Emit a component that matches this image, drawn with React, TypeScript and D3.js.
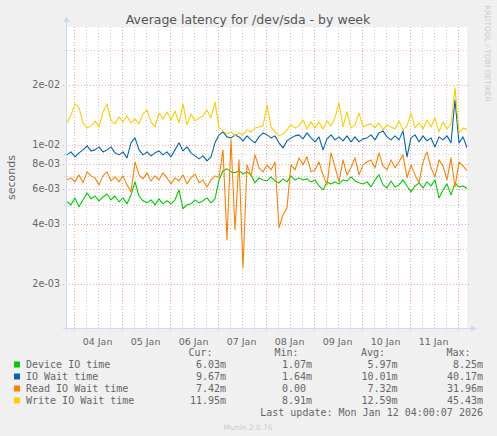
import * as d3 from "d3";

// munin "by week" window: 400 px at 30 min per px, sampled here every 2 h
const START = new Date(2026, 0, 3, 20, 42);
const END = new Date(2026, 0, 12, 4, 42);
const STEP_HOURS = 2;

const deviceIO = [
  0.00517, 0.00499, 0.00541, 0.00488, 0.00529, 0.00573, 0.00535, 0.00553, 0.00523, 0.00547,
  0.00566, 0.00529, 0.00553, 0.00517, 0.00541, 0.00505, 0.0056, 0.00651, 0.00553, 0.00523,
  0.00511, 0.00529, 0.00499, 0.00535, 0.00505, 0.00523, 0.00505, 0.00529, 0.00593, 0.00477,
  0.00499, 0.00505, 0.00529, 0.00511, 0.00523, 0.00541, 0.00511, 0.00535, 0.00666, 0.0074,
  0.00757, 0.00731, 0.00723, 0.0074, 0.00715, 0.00731, 0.00706, 0.00644, 0.00682, 0.00666,
  0.00658, 0.0069, 0.00658, 0.00644, 0.00674, 0.00651, 0.00698, 0.00666, 0.00682, 0.00666,
  0.00674, 0.00651, 0.00666, 0.00621, 0.00593, 0.00651, 0.00636, 0.00651, 0.00636, 0.00666,
  0.00658, 0.0069, 0.00658, 0.00644, 0.00636, 0.00651, 0.00614, 0.00666, 0.00706, 0.00629,
  0.00607, 0.00658, 0.00614, 0.00629, 0.00666, 0.00621, 0.0058, 0.00621, 0.00644, 0.00607,
  0.00651, 0.00621, 0.00666, 0.00541, 0.00593, 0.00636, 0.0056, 0.00644, 0.00614, 0.00621,
  0.00603,
];

const ioWait = [
  0.0089, 0.00921, 0.0087, 0.00911, 0.00943, 0.00987, 0.00932, 0.00943, 0.00976, 0.00921,
  0.00943, 0.00976, 0.00911, 0.0089, 0.00921, 0.0086, 0.01023, 0.01083, 0.00943, 0.0089,
  0.00921, 0.0088, 0.00911, 0.00932, 0.0089, 0.00921, 0.0087, 0.00943, 0.01023, 0.00932,
  0.00976, 0.00911, 0.0088, 0.0085, 0.0088, 0.0083, 0.0087, 0.01023, 0.01122, 0.01161,
  0.01096, 0.01083, 0.01122, 0.01096, 0.01047, 0.01109, 0.01059, 0.01023, 0.01096, 0.01148,
  0.01122, 0.01083, 0.01109, 0.01023, 0.00965, 0.01047, 0.01083, 0.01109, 0.01122, 0.01071,
  0.01148, 0.01083, 0.01035, 0.01096, 0.00943, 0.01071, 0.01122, 0.01059, 0.01096, 0.01047,
  0.01109, 0.01035, 0.01096, 0.01035, 0.01071, 0.01083, 0.01122, 0.01059, 0.01148, 0.01175,
  0.01096, 0.01059, 0.01109, 0.01059, 0.01175, 0.0087, 0.01083, 0.01122, 0.01035, 0.01109,
  0.01047, 0.01083, 0.00976, 0.01096, 0.01059, 0.01109, 0.01023, 0.01681, 0.01023, 0.01096,
  0.00967,
];

const readIO = [
  0.00666, 0.00682, 0.00651, 0.00706, 0.00644, 0.00731, 0.00698, 0.00682, 0.00629, 0.00698,
  0.00731, 0.00658, 0.0069, 0.00651, 0.00698, 0.00629, 0.0058, 0.0082, 0.00706, 0.00674,
  0.00723, 0.00658, 0.00698, 0.00666, 0.00723, 0.00682, 0.00636, 0.00682, 0.00658, 0.00706,
  0.00636, 0.00682, 0.00715, 0.00644, 0.00666, 0.00614, 0.00666, 0.00698, 0.00682, 0.00943,
  0.00333, 0.01059, 0.00374, 0.0084, 0.00241, 0.00793, 0.00698, 0.0089, 0.00766, 0.00731,
  0.00793, 0.00748, 0.0082, 0.00384, 0.00444, 0.00482, 0.00793, 0.00748, 0.0086, 0.00793,
  0.0087, 0.00731, 0.00748, 0.0082, 0.00706, 0.00629, 0.00911, 0.00775, 0.00651, 0.0084,
  0.00706, 0.00766, 0.0086, 0.00706, 0.00793, 0.0082, 0.0084, 0.00766, 0.00911, 0.00784,
  0.00748, 0.0084, 0.00766, 0.0082, 0.0089, 0.00682, 0.00793, 0.00706, 0.00644, 0.0082,
  0.00921, 0.00766, 0.0069, 0.0084, 0.00784, 0.00666, 0.0086, 0.00614, 0.0082, 0.00784,
  0.00742,
];

const writeIO = [
  0.01288, 0.01413, 0.01605, 0.01532, 0.01288, 0.01216, 0.01245, 0.01319, 0.0123, 0.01463,
  0.01605, 0.01319, 0.01274, 0.01381, 0.01304, 0.01397, 0.01288, 0.01349, 0.01274, 0.0143,
  0.01497, 0.01304, 0.0123, 0.01446, 0.01349, 0.01463, 0.01334, 0.0148, 0.01288, 0.01605,
  0.01259, 0.0143, 0.01319, 0.01365, 0.01397, 0.01497, 0.01365, 0.01643, 0.01216, 0.01175,
  0.01135, 0.01161, 0.01109, 0.01148, 0.01122, 0.01188, 0.01161, 0.01216, 0.0123, 0.01245,
  0.01587, 0.0123, 0.01161, 0.01109, 0.01135, 0.01188, 0.01259, 0.01216, 0.01245, 0.01334,
  0.01202, 0.01304, 0.01216, 0.01304, 0.01202, 0.01319, 0.01245, 0.01365, 0.01624, 0.0123,
  0.01463, 0.01216, 0.01259, 0.01446, 0.0123, 0.01259, 0.01274, 0.01216, 0.01288, 0.01188,
  0.01259, 0.0123, 0.01202, 0.01319, 0.01188, 0.01245, 0.01446, 0.01216, 0.01288, 0.01202,
  0.01334, 0.0123, 0.01365, 0.01161, 0.01304, 0.01202, 0.01274, 0.01932, 0.01148, 0.01216,
  0.01195,
];

const seriesNames = ["Device IO time", "IO Wait time", "Read IO Wait time", "Write IO Wait time"];
const seriesColors = ["#00cc00", "#0066b3", "#ff8000", "#ffcc00"];
const curValues = ["6.03m", "9.67m", "7.42m", "11.95m"];
const minValues = ["1.07m", "1.64m", "0.00\u00a0", "8.91m"];
const avgValues = ["5.97m", "10.01m", "7.32m", "12.59m"];
const maxValues = ["8.25m", "40.17m", "31.96m", "45.43m"];

const yMajorTicks = [0.002, 0.004, 0.006, 0.008, 0.01, 0.02];
const yTickLabels = ["2e-03", "4e-03", "6e-03", "8e-03", "1e-02", "2e-02"];
const yMinorTicks = [0.003, 0.005, 0.007, 0.009, 0.03];
const dayLabels = ["04 Jan", "05 Jan", "06 Jan", "07 Jan", "08 Jan", "09 Jan", "10 Jan", "11 Jan"];

const W = 497;
const H = 436;
const plot = { left: 67, right: 467, top: 27, bottom: 328 };
const MONO = "'DejaVu Sans Mono', monospace";
const SANS = "'DejaVu Sans', sans-serif";
const FONT_COLOR = "#666666";
const AXIS_COLOR = "#cfd6f8";
const MINOR_GRID = "#cccccc";
const MAJOR_GRID = "#f2a4a4";

export default function App() {
  const x = d3.scaleTime().domain([START, END]).range([plot.left, plot.right]);
  const y = d3.scaleLog().domain([0.0012, 0.0391]).range([plot.bottom, plot.top]);

  const timeAt = (i: number) => new Date(START.getTime() + i * STEP_HOURS * 3600 * 1000);
  const line = d3
    .line<number>()
    .x((_d, i) => x(timeAt(i)))
    .y((d) => y(d));

  const allSeries = [deviceIO, ioWait, readIO, writeIO];

  // 6-hourly minor grid, day lines as major grid
  const sixHours = d3.timeHour.every(6)!.range(START, END);
  const minorX = sixHours.filter((t) => t.getHours() !== 0);
  const majorX = d3.timeDay.range(START, END);
  const labelDays = majorX.slice(0, dayLabels.length);

  const legendTop = 368;
  const rowGap = 12;

  return (
    <div style={{ position: "absolute", left: 0, top: 0 }}>
      <svg width={W} height={H} style={{ display: "block" }}>
        <rect width={W} height={H} fill="#f0f0f0" />
        <rect
          x={plot.left}
          y={plot.top}
          width={plot.right - plot.left}
          height={plot.bottom - plot.top}
          fill="#ffffff"
        />

        {/* grid */}
        <g shapeRendering="crispEdges" strokeWidth={1} strokeDasharray="1,2">
          {minorX.map((t) => (
            <line
              key={"mx" + t.getTime()}
              x1={Math.round(x(t)) + 0.5}
              x2={Math.round(x(t)) + 0.5}
              y1={plot.top}
              y2={plot.bottom + 3}
              stroke={MINOR_GRID}
            />
          ))}
          {yMinorTicks.map((v) => (
            <line
              key={"my" + v}
              x1={plot.left - 3}
              x2={plot.right + 1}
              y1={Math.round(y(v)) + 0.5}
              y2={Math.round(y(v)) + 0.5}
              stroke={MINOR_GRID}
            />
          ))}
          {majorX.map((t) => (
            <line
              key={"Mx" + t.getTime()}
              x1={Math.round(x(t)) + 0.5}
              x2={Math.round(x(t)) + 0.5}
              y1={plot.top}
              y2={plot.bottom + 3}
              stroke={MAJOR_GRID}
            />
          ))}
          {yMajorTicks.map((v) => (
            <line
              key={"My" + v}
              x1={plot.left - 4}
              x2={plot.right + 2}
              y1={Math.round(y(v)) + 0.5}
              y2={Math.round(y(v)) + 0.5}
              stroke={MAJOR_GRID}
            />
          ))}
        </g>

        {/* series */}
        <defs>
          <clipPath id="plotClip">
            <rect
              x={plot.left}
              y={plot.top}
              width={plot.right - plot.left}
              height={plot.bottom - plot.top}
            />
          </clipPath>
        </defs>
        <g clipPath="url(#plotClip)" fill="none" strokeWidth={1.1} strokeLinejoin="round">
          {allSeries.map((s, k) => (
            <path key={seriesNames[k]} d={line(s) ?? ""} stroke={seriesColors[k]} />
          ))}
        </g>

        {/* axes */}
        <g stroke={AXIS_COLOR} shapeRendering="crispEdges">
          <line x1={plot.left - 0.5} x2={plot.left - 0.5} y1={plot.top - 5} y2={plot.bottom + 3} />
          <line x1={plot.left - 4} x2={plot.right + 4} y1={plot.bottom + 0.5} y2={plot.bottom + 0.5} />
        </g>
        <path
          d={`M${plot.left - 3.5},${plot.top - 5} L${plot.left - 0.5},${plot.top - 11} L${plot.left + 2.5},${plot.top - 5} Z`}
          fill={AXIS_COLOR}
        />
        <path
          d={`M${plot.right + 4},${plot.bottom - 2.5} L${plot.right + 10},${plot.bottom + 0.5} L${plot.right + 4},${plot.bottom + 3.5} Z`}
          fill={AXIS_COLOR}
        />

        {/* y tick labels */}
        <g fontFamily={SANS} fontSize={9.6} fill={FONT_COLOR} textAnchor="end">
          {yMajorTicks.map((v, i) => (
            <text key={"yl" + v} x={plot.left - 7} y={y(v)} dy="0.35em">
              {yTickLabels[i]}
            </text>
          ))}
        </g>

        {/* x tick labels at midday */}
        <g fontFamily={SANS} fontSize={9.5} fill={FONT_COLOR} textAnchor="middle">
          {labelDays.map((t, i) => (
            <text key={dayLabels[i]} x={x(d3.timeHour.offset(t, 12))} y={345}>
              {dayLabels[i]}
            </text>
          ))}
        </g>

        {/* title and side texts */}
        <text x={248} y={24} textAnchor="middle" fontFamily={SANS} fontSize={12.5} fill="#555555">
          Average latency for /dev/sda - by week
        </text>
        <text
          transform="translate(15,177.5) rotate(-90)"
          textAnchor="middle"
          fontFamily={SANS}
          fontSize={11}
          fill={FONT_COLOR}
        >
          seconds
        </text>
        <text
          transform="translate(485,53.5) rotate(90)"
          textAnchor="middle"
          fontFamily={SANS}
          fontSize={7.5}
          fill="#cccccc"
        >
          RRDTOOL / TOBI OETIKER
        </text>

        {/* legend */}
        <g fontFamily={MONO} fontSize={10} fill={FONT_COLOR}>
          <text x={212.5} y={356} textAnchor="end">Cur:</text>
          <text x={298.5} y={356} textAnchor="end">Min:</text>
          <text x={385} y={356} textAnchor="end">Avg:</text>
          <text x={470.5} y={356} textAnchor="end">Max:</text>
          {seriesNames.map((name, i) => {
            const by = legendTop + i * rowGap;
            return (
              <g key={name}>
                <rect x={14} y={by - 6.5} width={6} height={6} fill={seriesColors[i]} />
                <text x={26} y={by}>{name}</text>
                <text x={226} y={by} textAnchor="end">{curValues[i]}</text>
                <text x={312} y={by} textAnchor="end">{minValues[i]}</text>
                <text x={397.5} y={by} textAnchor="end">{avgValues[i]}</text>
                <text x={483} y={by} textAnchor="end">{maxValues[i]}</text>
              </g>
            );
          })}
          <text x={483} y={416} textAnchor="end">
            Last update: Mon Jan 12 04:00:07 2026
          </text>
        </g>
        <text x={248} y={430} textAnchor="middle" fontFamily={SANS} fontSize={7.5} fill="#cccccc">
          Munin 2.0.76
        </text>
      </svg>
    </div>
  );
}
